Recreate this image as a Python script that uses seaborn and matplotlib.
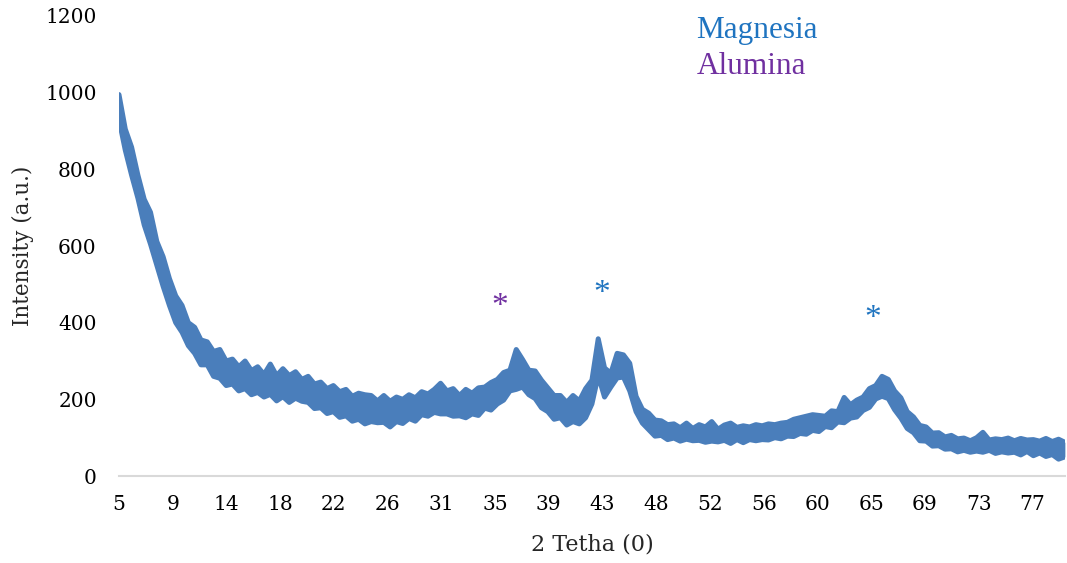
import numpy as np
import pandas as pd
import matplotlib
matplotlib.use("Agg")
import matplotlib.pyplot as plt
import seaborn as sns

# XRD scan: 2-theta from 5 to 80 degrees in 0.5 degree steps
two_theta = np.arange(5.0, 80.0001, 0.5)

# Upper and lower extent of the noisy intensity trace (a.u.) at each step
upper = [
    995, 905, 858, 785, 722, 688, 612, 572, 515, 470,    # 5.0 - 9.5
    445, 400, 388, 355, 350, 325, 330, 300, 305, 285,    # 10.0 - 14.5
    300, 275, 285, 265, 292, 262, 280, 262, 272, 252,    # 15.0 - 19.5
    260, 240, 245, 228, 236, 220, 226, 208, 216, 212,    # 20.0 - 24.5
    210, 196, 210, 195, 206, 200, 212, 204, 220, 214,    # 25.0 - 29.5
    226, 242, 222, 228, 210, 226, 216, 230, 232, 244,    # 30.0 - 34.5
    252, 270, 276, 330, 304, 276, 274, 250, 230, 210,    # 35.0 - 39.5
    210, 192, 210, 196, 228, 250, 358, 282, 268, 320,    # 40.0 - 44.5
    316, 294, 208, 174, 164, 146, 144, 134, 136, 126,    # 45.0 - 49.5
    138, 124, 134, 128, 142, 122, 133, 138, 127, 131,    # 50.0 - 54.5
    128, 134, 131, 136, 134, 138, 140, 148, 152, 156,    # 55.0 - 59.5
    160, 158, 156, 170, 168, 205, 186, 198, 206, 228,    # 60.0 - 64.5
    236, 260, 252, 222, 204, 168, 154, 132, 128, 112,    # 65.0 - 69.5
    113, 102, 106, 97, 99, 92, 100, 114, 94, 97,         # 70.0 - 74.5
    95, 99, 92, 98, 94, 95, 91, 98, 90, 96,              # 75.0 - 79.5
    88,                                                  # 80.0
]
lower = [
    930, 850, 785, 725, 655, 605, 550, 495, 445, 400,    # 5.0 - 9.5
    375, 340, 320, 290, 290, 260, 255, 236, 240, 222,    # 10.0 - 14.5
    228, 212, 218, 206, 213, 196, 207, 192, 203, 195,    # 15.0 - 19.5
    192, 176, 178, 163, 168, 153, 157, 143, 148, 136,    # 20.0 - 24.5
    142, 139, 140, 128, 142, 137, 150, 143, 160, 156,    # 25.0 - 29.5
    166, 162, 162, 156, 157, 152, 162, 158, 177, 172,    # 30.0 - 34.5
    188, 198, 222, 226, 232, 212, 202, 178, 168, 148,    # 35.0 - 39.5
    152, 133, 142, 136, 152, 188, 262, 206, 232, 256,    # 40.0 - 44.5
    258, 222, 168, 138, 121, 104, 106, 95, 99, 91,       # 45.0 - 49.5
    96, 92, 93, 88, 91, 89, 93, 85, 95, 87,              # 50.0 - 54.5
    95, 92, 95, 94, 100, 97, 104, 103, 111, 109,         # 55.0 - 59.5
    119, 116, 129, 126, 141, 139, 151, 154, 171, 179,    # 60.0 - 64.5
    201, 208, 202, 173, 151, 124, 113, 92, 91, 78,       # 65.0 - 69.5
    79, 70, 71, 63, 67, 62, 65, 62, 67, 59,              # 70.0 - 74.5
    63, 60, 62, 55, 64, 53, 60, 51, 56, 44,              # 75.0 - 79.5
    50,                                                  # 80.0
]

# Category-style tick positions (every 4.26 degrees) and their labels
tick_pos = [5 + k * 4.26 for k in range(18)]
tick_labels = ["5", "9", "14", "18", "22", "26", "31", "35", "39",
               "43", "48", "52", "56", "60", "65", "69", "73", "77"]
y_ticks = [0, 200, 400, 600, 800, 1000, 1200]

# Phase markers: (2-theta, height, colour)
phase_names = ["Magnesia", "Alumina"]
phase_colors = ["#1f74c0", "#7030a0"]
peak_marks = [(35.2, 458, "#7030a0"), (43.25, 492, "#1f74c0"), (64.8, 427, "#1f74c0")]

trace_color = "#4a7ebb"

sns.set_theme(style="white")
plt.rcParams["font.family"] = ["DejaVu Serif"]

# Long-format table: two readings (upper / lower) per scan step
df = pd.DataFrame({
    "two_theta": np.concatenate([two_theta, two_theta]),
    "intensity": np.concatenate([upper, lower]),
    "edge": ["upper"] * len(two_theta) + ["lower"] * len(two_theta),
})

fig = plt.figure(figsize=(10.67, 5.63), dpi=100)
ax = fig.add_axes([0.1115, 0.1545, 0.8865, 0.8171])

# Filled band spanning the noise of the trace
sns.lineplot(data=df, x="two_theta", y="intensity", ax=ax,
             estimator="mean", errorbar=("pi", 100),
             color=trace_color, linewidth=4,
             err_kws={"alpha": 1, "linewidth": 0})
# Rounded outline of the band edges
sns.lineplot(data=df, x="two_theta", y="intensity", units="edge",
             estimator=None, ax=ax, color=trace_color, linewidth=3.6,
             solid_joinstyle="round", solid_capstyle="round")

ax.set_xlim(5, 80)
ax.set_ylim(0, 1200)
ax.set_xticks(tick_pos)
ax.set_xticklabels(tick_labels)
ax.set_yticks(y_ticks)
ax.tick_params(axis="both", length=0, labelsize=14.5, colors="black")
ax.tick_params(axis="x", pad=14)
ax.tick_params(axis="y", pad=16)

for side in ["top", "right", "left"]:
    ax.spines[side].set_visible(False)
ax.spines["bottom"].set_color("#d9d9d9")
ax.spines["bottom"].set_linewidth(1.5)
ax.grid(False)

ax.set_xlabel("2 Tetha (0)", fontsize=16, labelpad=14)
ax.set_ylabel("Intensity (a.u.)", fontsize=15.5, labelpad=8)

# Phase legend as coloured text
ax.text(50.8, 1161, phase_names[0], color=phase_colors[0], fontsize=22.5,
        family="Liberation Serif", va="center", ha="left")
ax.text(50.8, 1068, phase_names[1], color=phase_colors[1], fontsize=22.5,
        family="Liberation Serif", va="center", ha="left")

for x, y, c in peak_marks:
    ax.text(x, y - 38, "*", color=c, fontsize=24, family="Liberation Serif",
            ha="center", va="baseline")

fig.savefig("out.png", dpi=100, facecolor="white")
